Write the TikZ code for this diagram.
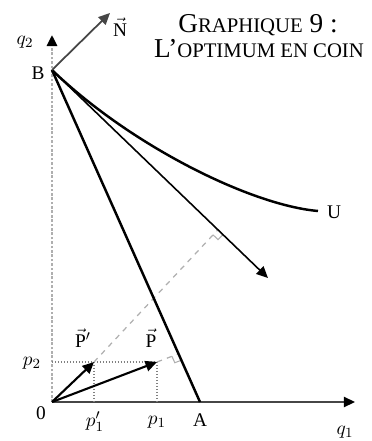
\documentclass[tikz,border=0pt]{standalone}
\usepackage{amsmath}
\usepackage{fontspec}
\setmainfont{Liberation Serif}
\usetikzlibrary{arrows.meta,calc}
\definecolor{grisfonce}{RGB}{70,70,70}
\definecolor{grisclair}{RGB}{175,175,175}
\newcommand{\petitcap}[1]{{\fontsize{11.8}{14}\selectfont #1}}
\tikzset{
  axe/.style={line width=1.3pt, draw=grisfonce, -{Triangle[length=2.2mm,width=2mm,color=black]}},
  axepoint/.style={line width=1.5pt, draw=grisclair, densely dotted, -{Triangle[length=2.2mm,width=2mm,color=black]}},
  fleche/.style={-{Triangle[length=2.3mm,width=2.1mm]}, line width=#1},
  fleche/.default=1pt,
  guide/.style={densely dotted, draw=gray, line width=0.7pt},
  proj/.style={dashed, draw=grisclair, line width=0.7pt},
  angdroit/.style={draw=grisclair, line width=0.6pt},
  etiq/.style={font=\fontsize{11}{13}\selectfont, inner sep=1pt},
  titre/.style={font=\fontsize{15.5}{18}\selectfont, anchor=base, inner sep=0pt},
}
\begin{document}
\begin{tikzpicture}[x=0.02cm, y=0.02cm]
\useasboundingbox (-52,-39) rectangle (320,402);
% points
\coordinate (O) at (0,0);
\coordinate (B) at (0,332);
\coordinate (A) at (148,0);
\coordinate (Ytip) at (0,367);
\coordinate (Xtip) at (303,0);
\coordinate (Ntip) at (58,389);
\coordinate (T) at (216,124);
\coordinate (Uend) at (266,191);
\coordinate (Pp) at (42,40);
\coordinate (P) at (105,40);
% axes
\draw[axepoint] (O) -- (Ytip);
\draw[axe] (O) -- (Xtip);
% guides
\draw[guide] (O|-P) -- (P);
\draw[guide] (Pp) -- (Pp|-O);
\draw[guide] (P) -- (P|-O);
% projections
\coordinate (F) at ($(B)!(O)!(T)$);
\coordinate (G) at (intersection of O--P and B--A);
\draw[proj] (Pp) -- (F);
\draw[proj] (P) -- (G);
\draw[angdroit] ($(F)!4pt!(O)$) -- ($($(F)!4pt!(O)$)+($(F)!4pt!(T)$)-(F)$) -- ($(F)!4pt!(T)$);
\draw[angdroit] ($(G)!4pt!(O)$) -- ($($(G)!4pt!(O)$)+($(G)!4pt!(A)$)-(G)$) -- ($(G)!4pt!(A)$);
% budget et courbe
\draw[line width=1.4pt] (B) -- (A);
\draw[line width=1.4pt] (B) .. controls (78,257) and (198,197) .. (Uend);
\draw[fleche=0.9pt] (B) -- (T);
\draw[fleche=1pt, draw=grisfonce] (B) -- (Ntip);
\draw[fleche=1.2pt] (O) -- (Pp);
\draw[fleche=1.2pt] (O) -- (P);
% etiquettes
\node[etiq] (lq2) at (-27,360) {$q_2$};
\node[etiq] (lB) at (-14,329) {B};
\node[etiq] (lN) at (68,375) {$\vec{\mathrm{N}}$};
\node[etiq] (lU) at (282,190) {U};
\node[etiq] (lPp) at (31,64) {$\vec{\mathrm{P}}'$};
\node[etiq] (lP) at (99,64) {$\vec{\mathrm{P}}$};
\node[etiq] (lp2) at (-20,39) {$p_2$};
\node[etiq] (lO) at (-11,-11) {0};
\node[etiq] (lp1p) at (43,-20) {$p'_1$};
\node[etiq] (lp1) at (105,-20) {$p_1$};
\node[etiq] (lA) at (148,-18) {A};
\node[etiq] (lq1) at (293,-30) {$q_1$};
\node[titre] (titre1) at (206,370) {G\petitcap{RAPHIQUE} 9 :};
\node[titre] (titre2) at (207,345) {L’\petitcap{OPTIMUM EN COIN}};
\end{tikzpicture}
\end{document}
